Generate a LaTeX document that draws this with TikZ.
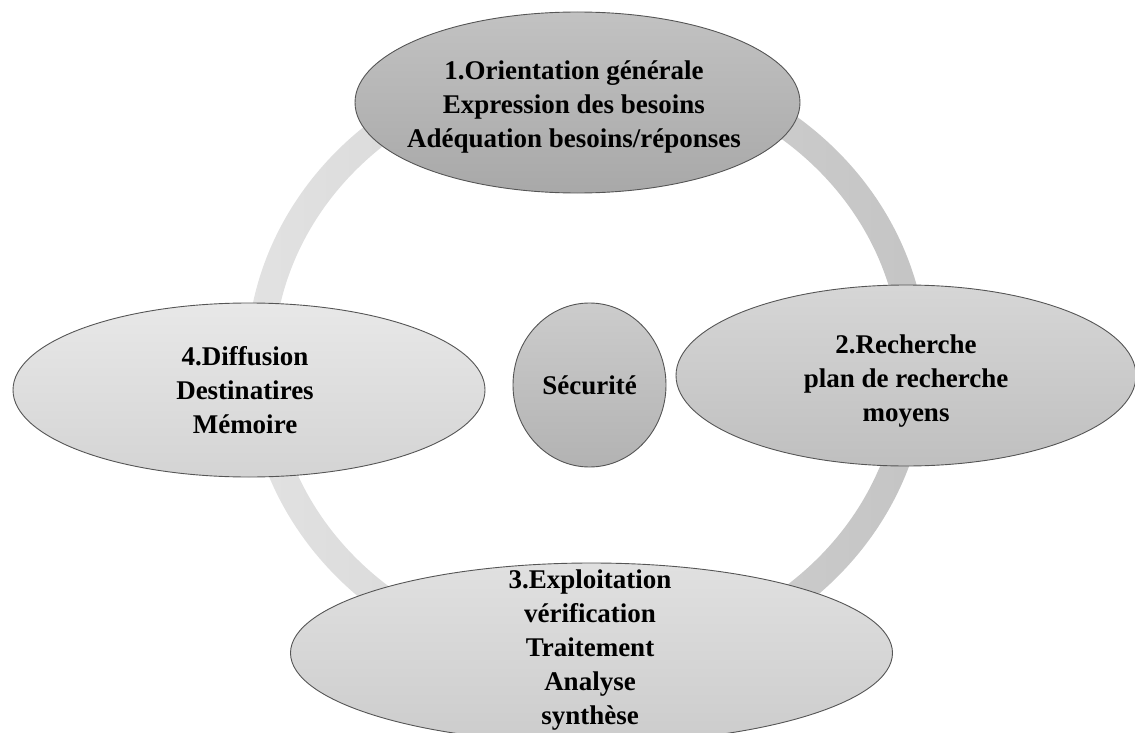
\documentclass[tikz,border=0pt]{standalone}
\usepackage{fontspec}
\setmainfont{Liberation Serif}[BoldFont={Liberation Serif Bold}]
\usetikzlibrary{shapes.geometric}
\definecolor{ringleft}{HTML}{E2E2E2}
\definecolor{ringright}{HTML}{C4C4C4}
\definecolor{edgegray}{HTML}{555555}
\begin{document}
\begin{tikzpicture}[x=1pt,y=-1pt,
  bubble/.style={ellipse, draw=edgegray, line width=0.9pt, inner sep=0pt},
  txt/.style={align=center, inner sep=0pt, font=\fontsize{27}{34}\selectfont\bfseries}]
\useasboundingbox (0,0) rectangle (1135,733);
\clip (0,0) rectangle (1135,733);

% the cycle ring behind the stages
\coordinate (hub) at (587,364);
\path[left color=ringleft, right color=ringright, even odd rule]
  (hub) ellipse[x radius=340.5, y radius=314]
  (hub) ellipse[x radius=313.5, y radius=287];

% stage bubbles
\node[bubble, minimum width=445pt, minimum height=181pt,
      top color=black!24, bottom color=black!34] (e1) at (577.5,102.5) {};
\node[bubble, minimum width=460pt, minimum height=181pt,
      top color=black!16, bottom color=black!25] (e2) at (906,375.5) {};
\node[bubble, minimum width=602pt, minimum height=180pt,
      top color=black!12, bottom color=black!20] (e3) at (591.5,653) {};
\node[bubble, minimum width=472pt, minimum height=174pt,
      top color=black!9, bottom color=black!17] (e4) at (249,390) {};
\node[bubble, minimum width=153pt, minimum height=164pt,
      top color=black!20, bottom color=black!30] (core) at (589.5,385) {};

% texts
\node[txt] (t1) at (574,107) {1.Orientation générale\\Expression des besoins\\Adéquation besoins/réponses};
\node[txt] (t2) at (906,381) {2.Recherche\\plan de recherche\\moyens};
\node[txt] (t3) at (590,650) {3.Exploitation\\vérification\\Traitement\\Analyse\\synthèse};
\node[txt] (t4) at (245,390) {4.Diffusion\\Destinatires\\Mémoire};
\node[txt] (t5) at (core.center) {Sécurité};
\end{tikzpicture}
\end{document}
